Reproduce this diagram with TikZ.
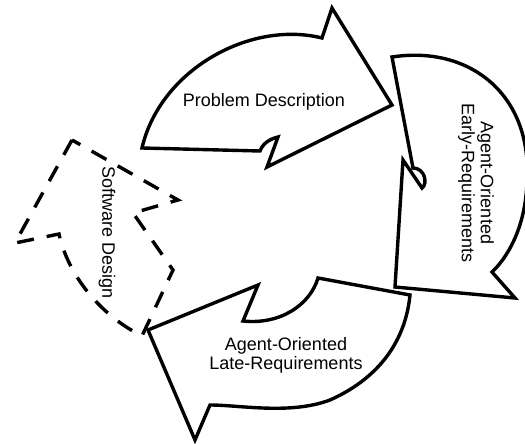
\documentclass[tikz,border=0pt]{standalone}
\usepackage{fontspec}
\setmainfont{Liberation Sans}
\begin{document}
\begin{tikzpicture}[x=1pt,y=-1pt]
\tikzset{
  shapeline/.style={draw=black, line width=3.4pt, fill=white, line join=miter},
  dashline/.style={draw=black, line width=3.4pt, fill=white, dash pattern=on 17pt off 13pt},
  lbl/.style={font=\fontsize{18}{19}\selectfont, align=center, text=black, inner sep=0pt}
}
\useasboundingbox (0,0) rectangle (525,444);
% Software Design (dashed)
\draw[dashline] (72,140) -- (15,243) -- (59,234) .. controls (68,275) and (100,315) .. (142,336) -- (173,270) -- (133,213) -- (178,200) -- cycle;
% Late requirements
\draw[shapeline] (148,330) -- (258,285) -- (243,321) .. controls (280,325) and (310,305) .. (318,278) -- (410,295) .. controls (405,345) and (375,380) .. (330,400) .. controls (290,415) and (240,405) .. (210,405) -- (195,440) -- cycle;
% Early requirements
\draw[shapeline] (403,160) -- (395,287) -- (515,298) -- (492,272) .. controls (505,260) and (526,230) .. (527,180) .. controls (532,95) and (470,45) .. (392,57) -- (413,168) .. controls (425,168) and (428,184) .. (422,188) -- cycle;
% Problem description
\draw[shapeline] (322,38) .. controls (250,20) and (160,70) .. (142,148) -- (260,151) .. controls (263,143) and (270,139) .. (278,137) -- (267,167) -- (392,105) -- (332,8) -- cycle;
% labels
\node[lbl] (pdlabel) at (264,102) {Problem Description};
\node[lbl, rotate=-90] (earlylabel) at (476,183) {Agent-Oriented\\Early-Requirements};
\node[lbl] (latelabel) at (286,355) {Agent-Oriented\\Late-Requirements};
\node[lbl, rotate=-90] (sdlabel) at (107,233) {Software Design};
\end{tikzpicture}
\end{document}
